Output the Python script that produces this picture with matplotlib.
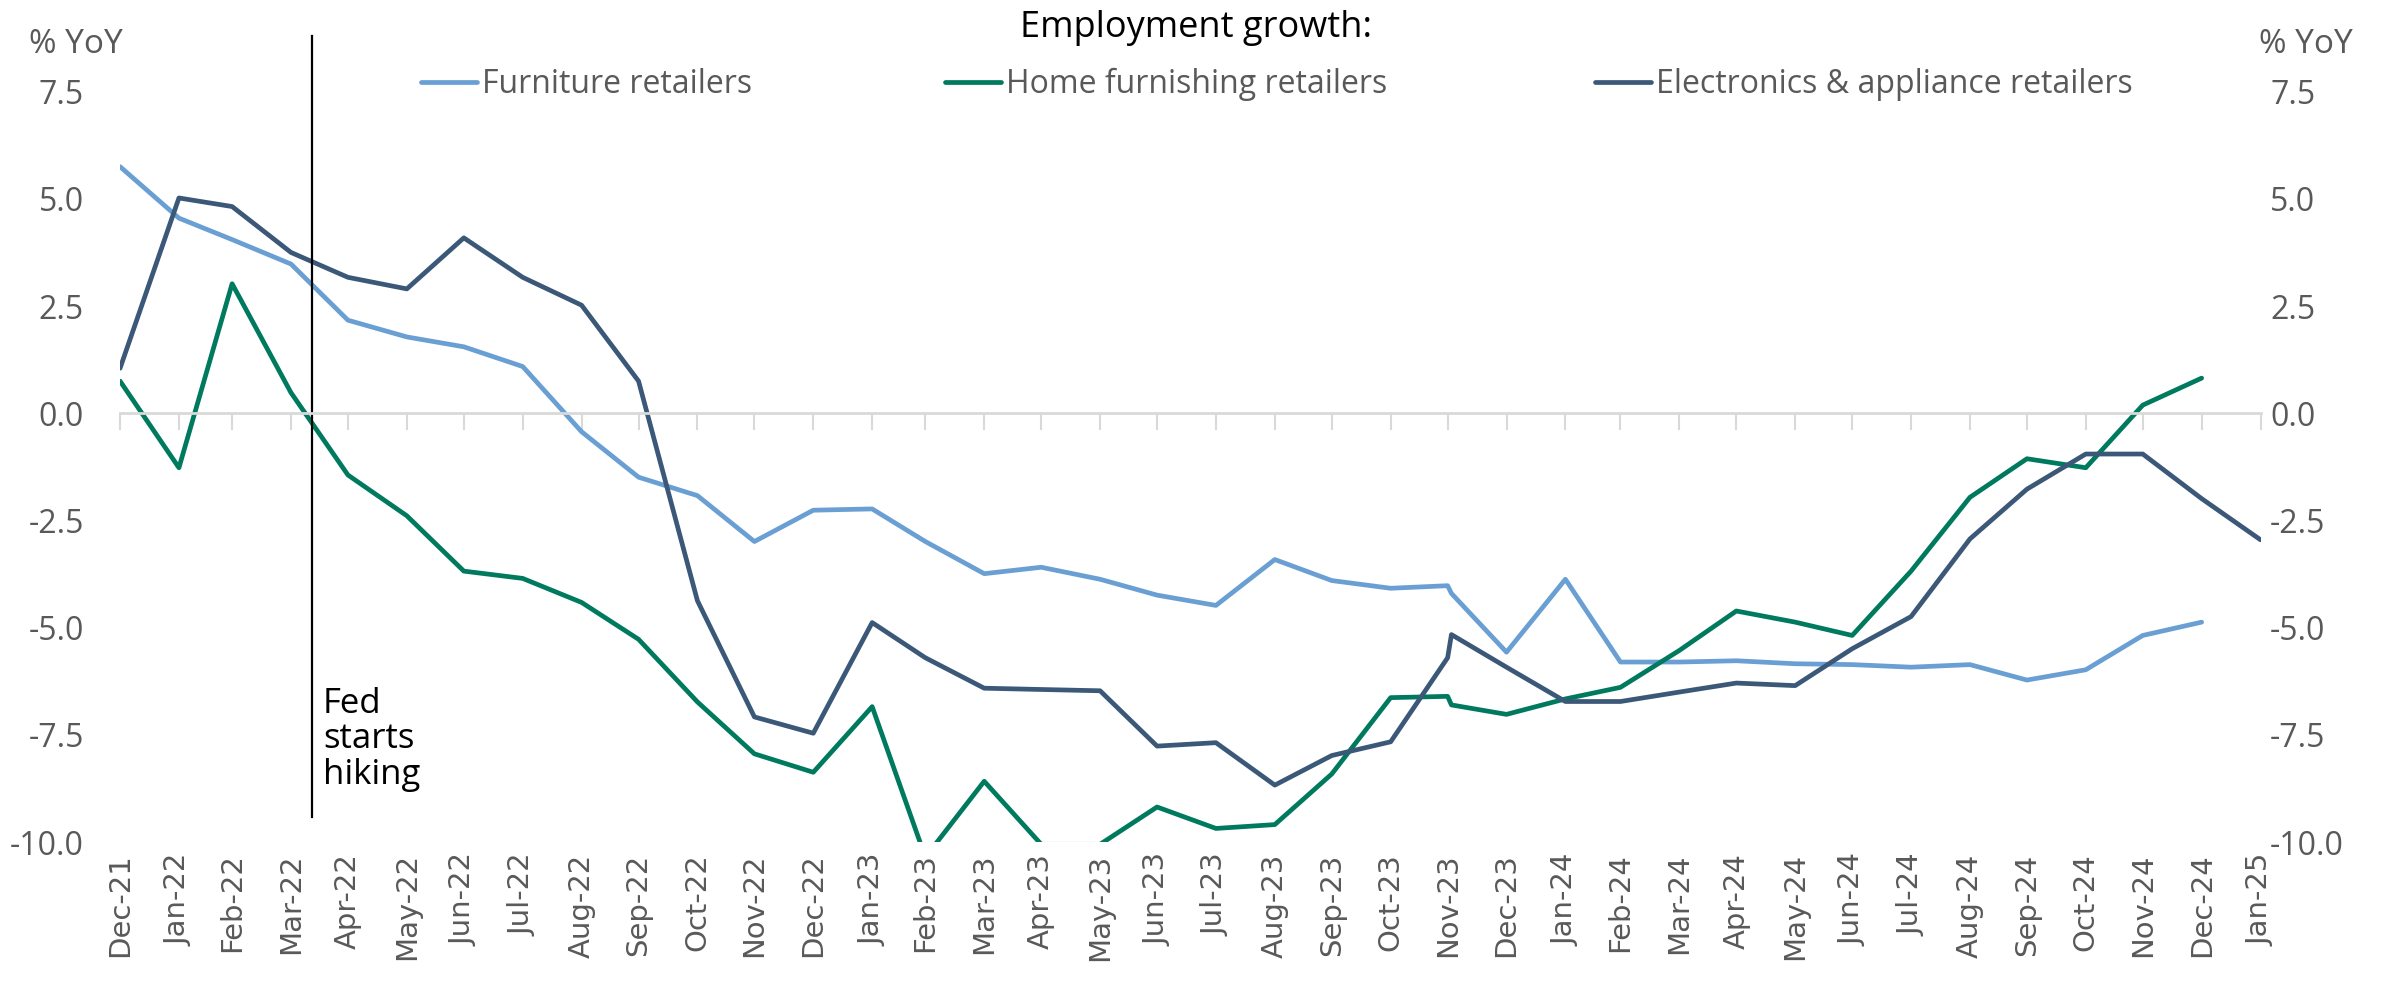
import matplotlib
matplotlib.use("Agg")
import matplotlib.pyplot as plt
import matplotlib.dates as mdates
import numpy as np
import pandas as pd

# data points sit on month ends; one extra reading just after Nov-23
dates = [
    "2021-12-31", "2022-01-31", "2022-02-28", "2022-03-31", "2022-04-30", "2022-05-31",
    "2022-06-30", "2022-07-31", "2022-08-31", "2022-09-30", "2022-10-31", "2022-11-30",
    "2022-12-31", "2023-01-31", "2023-02-28", "2023-03-31", "2023-04-30", "2023-05-31",
    "2023-06-30", "2023-07-31", "2023-08-31", "2023-09-30", "2023-10-31", "2023-11-30",
    "2023-12-02", "2023-12-31", "2024-01-31", "2024-02-29", "2024-03-31", "2024-04-30",
    "2024-05-31", "2024-06-30", "2024-07-31", "2024-08-31", "2024-09-30", "2024-10-31",
    "2024-11-30", "2024-12-31", "2025-01-31",
]
furniture = [
    5.75, 4.55, 4.05, 3.48, 2.17, 1.78, 1.55, 1.09, -0.43, -1.49, -1.92, -2.99,
    -2.26, -2.23, -2.99, -3.74, -3.59, -3.87, -4.24, -4.48, -3.41, -3.90, -4.08, -4.02,
    -4.20, -5.57, -3.87, -5.80, -5.80, -5.77, -5.84, -5.86, -5.92, -5.86, -6.22, -5.98,
    -5.18, -4.87, None,
]
home_furnishing = [
    0.75, -1.27, 3.02, 0.48, -1.44, -2.39, -3.68, -3.85, -4.41, -5.27, -6.73, -7.94,
    -8.37, -6.84, -10.35, -8.58, -10.05, -10.05, -9.18, -9.68, -9.59, -8.41, -6.63, -6.60,
    -6.80, -7.02, -6.66, -6.39, -5.53, -4.61, -4.87, -5.18, -3.68, -1.96, -1.06, -1.27,
    0.19, 0.82, None,
]
electronics = [
    1.05, 5.02, 4.82, 3.75, 3.17, 2.90, 4.09, 3.17, 2.52, 0.75, -4.37, -7.08,
    -7.46, -4.88, -5.70, -6.41, -6.44, -6.47, -7.76, -7.68, -8.67, -7.98, -7.66, -5.70,
    -5.16, -5.92, -6.72, -6.72, -6.50, -6.29, -6.35, -5.49, -4.74, -2.93, -1.77, -0.95,
    -0.95, -1.99, -2.95,
]
series_names = ["Furniture retailers", "Home furnishing retailers",
                "Electronics & appliance retailers"]
series_colors = ["#6A9FD3", "#007A5E", "#3B5878"]

tick_months = pd.date_range("2021-12-31", "2025-01-31", freq="ME")
tick_labels = [d.strftime("%b-%y") for d in tick_months]
y_ticks = np.arange(-10, 7.6, 2.5)
fed_hike_date = "2022-04-11"

grey = "#595959"
plt.rcParams["font.family"] = ["Open Sans", "DejaVu Sans"]
fs = 23

fig = plt.figure(figsize=(23.82, 9.85), dpi=100)
ax = fig.add_axes([0.0504, 0.145, 0.8986, 0.762])

x = mdates.date2num(pd.to_datetime(dates))
tick_x = mdates.date2num(tick_months)

lines = []
for vals, name, col in zip([furniture, home_furnishing, electronics], series_names, series_colors):
    ln, = ax.plot(x, np.array(vals, dtype=float), color=col, lw=3.4, label=name,
                  solid_capstyle="round")
    lines.append(ln)

ax.set_xlim(tick_x[0], tick_x[-1])
ax.set_ylim(-10, 7.5)

# zero line carries the month tick marks
for s in ["top", "right", "left"]:
    ax.spines[s].set_visible(False)
ax.spines["bottom"].set_position(("data", 0))
ax.spines["bottom"].set_color("#D9D9D9")
ax.spines["bottom"].set_linewidth(2)
ax.set_xticks(tick_x)
ax.tick_params(axis="x", length=12, width=1.5, color="#D9D9D9", labelbottom=False)

# month labels at the bottom of the plot
sec = ax.secondary_xaxis("bottom")
sec.set_xticks(tick_x, labels=tick_labels)
sec.spines["bottom"].set_visible(False)
sec.tick_params(length=0, pad=8, labelcolor=grey, labelrotation=90)
for lab in sec.get_xticklabels():
    lab.set_fontfamily("DejaVu Sans")
    lab.set_fontsize(21)

ylabels = [f"{v:.1f}" for v in y_ticks]
ax.set_yticks(y_ticks, labels=ylabels)
ax.tick_params(axis="y", length=0, pad=26, labelsize=fs, labelcolor=grey)

ax2 = ax.twinx()
ax2.set_ylim(-10, 7.5)
ax2.set_yticks(y_ticks, labels=ylabels)
ax2.tick_params(axis="y", length=0, pad=7, labelsize=fs, labelcolor=grey)
for s in ax2.spines.values():
    s.set_visible(False)

# Fed marker
fed_x = mdates.date2num(pd.Timestamp(fed_hike_date))
ax.axvline(fed_x, ymin=0.033, ymax=1.074, color="black", lw=1.6, clip_on=False)
ax.annotate("Fed\nstarts\nhiking", xy=(fed_x, -7.6), xytext=(8, 0),
            textcoords="offset points", ha="left", va="center",
            fontsize=25, linespacing=1.05, color="black")

fig.text(0.032, 0.955, "% YoY", ha="center", va="center", fontsize=24, color=grey)
fig.text(0.968, 0.955, "% YoY", ha="center", va="center", fontsize=24, color=grey)
fig.text(0.502, 0.972, "Employment growth:", ha="center", va="center", fontsize=26, color="black")

# legend entries laid out like the source
legend_x = [0.1767, 0.3967, 0.6696]
for ln, lx in zip(lines, legend_x):
    fig.legend(handles=[ln], loc="center left", bbox_to_anchor=(lx, 0.914),
               frameon=False, fontsize=fs, handlelength=1.75, handletextpad=0.15,
               borderpad=0, borderaxespad=0, labelcolor=grey)

fig.savefig("out.png", dpi=100)
